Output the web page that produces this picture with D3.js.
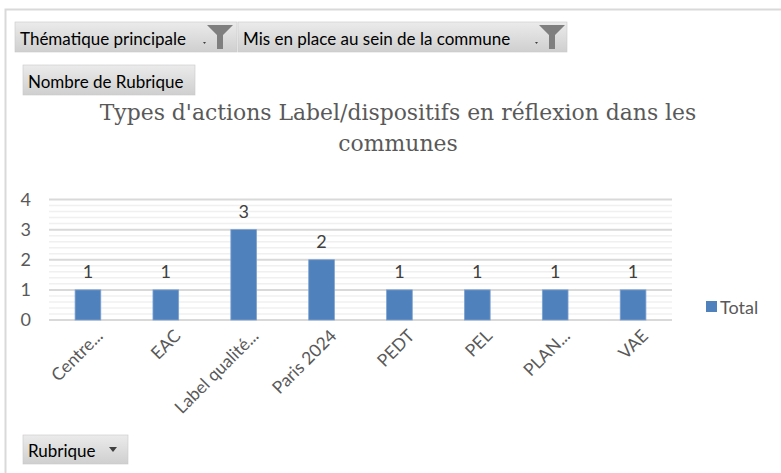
<!DOCTYPE html>
<html>
<head>
<meta charset="utf-8">
<script src="https://d3js.org/d3.v7.min.js"></script>
<style>
  body { margin: 0; background: #fff; }
  text { font-family: Lato, "Open Sans", sans-serif; }
</style>
</head>
<body>
<div id="chart"></div>
<script>
// data
var categories = ['Centre...', 'EAC', 'Label qualité...', 'Paris 2024', 'PEDT', 'PEL', 'PLAN...', 'VAE'];
var values = [1, 1, 3, 2, 1, 1, 1, 1];
var yTicks = [0, 1, 2, 3, 4];
var seriesName = 'Total';
var titleLines = ["Types d'actions Label/dispositifs en réflexion dans les", 'communes'];

var W = 781, H = 473;
var svg = d3.select('#chart').append('svg')
  .attr('width', W).attr('height', H);

var defs = svg.append('defs');
var grad = defs.append('linearGradient').attr('id', 'btn').attr('x1', 0).attr('y1', 0).attr('x2', 0).attr('y2', 1);
grad.append('stop').attr('offset', '0%').attr('stop-color', '#ebebeb');
grad.append('stop').attr('offset', '100%').attr('stop-color', '#cfcfcf');

// outer frame
svg.append('path')
  .attr('d', 'M5.5,' + H + ' L5.5,9.5 L' + W + ',9.5')
  .attr('fill', 'none').attr('stroke', '#d9d9d9').attr('stroke-width', 2);

// plot area
var x = d3.scaleBand().domain(categories).range([49, 672]).paddingInner(0.67).paddingOuter(0.335);
var y = d3.scaleLinear().domain([0, 4]).range([320, 199.5]);

// minor gridlines
var minor = d3.range(0, 4.0001, 0.2).filter(function(v) { return Math.abs(v - Math.round(v)) > 0.01; });
svg.append('g').selectAll('line').data(minor).enter().append('line')
  .attr('x1', 49).attr('x2', 672)
  .attr('y1', function(d) { return y(d); }).attr('y2', function(d) { return y(d); })
  .attr('stroke', '#f0f0f0').attr('stroke-width', 1.5);

// major gridlines
svg.append('g').selectAll('line').data(yTicks).enter().append('line')
  .attr('x1', 49).attr('x2', 672)
  .attr('y1', function(d) { return y(d); }).attr('y2', function(d) { return y(d); })
  .attr('stroke', '#d9d9d9').attr('stroke-width', 2);

// y axis labels
var yAxis = d3.axisLeft(y).tickValues(yTicks).tickFormat(d3.format('d')).tickSize(0).tickPadding(0);
var gy = svg.append('g').attr('transform', 'translate(31,0)').call(yAxis);
gy.select('.domain').remove();
gy.selectAll('text').attr('font-size', 18).attr('fill', '#595959').attr('font-family', 'Lato, sans-serif');

// bars
svg.append('g').selectAll('rect').data(values).enter().append('rect')
  .attr('x', function(d, i) { return x(categories[i]); })
  .attr('width', x.bandwidth())
  .attr('y', function(d) { return y(d); })
  .attr('height', function(d) { return y(0) - y(d); })
  .attr('fill', '#4f81bd').attr('stroke', '#7fa3d0').attr('stroke-width', 0.8);

// data labels
svg.append('g').selectAll('text').data(values).enter().append('text')
  .attr('x', function(d, i) { return x(categories[i]) + x.bandwidth() / 2; })
  .attr('y', function(d) { return y(d) - 19; })
  .attr('text-anchor', 'middle').attr('dominant-baseline', 'central')
  .attr('font-size', 18).attr('fill', '#404040')
  .text(function(d) { return d; });

// x axis labels
var xAxis = d3.axisBottom(x).tickSize(0).tickPadding(0);
var gx = svg.append('g').attr('transform', 'translate(0,320)').call(xAxis);
gx.select('.domain').remove();
gx.selectAll('text')
  .attr('font-size', 17.5).attr('fill', '#595959').attr('font-family', 'Lato, sans-serif')
  .attr('text-anchor', 'end').attr('dy', null).attr('y', null)
  .attr('transform', 'translate(16,17) rotate(-45)');

// title
var title = svg.append('g').selectAll('text').data(titleLines).enter().append('text')
  .attr('x', 398).attr('y', function(d, i) { return 120 + i * 31; })
  .attr('text-anchor', 'middle')
  .style('font-family', '"DejaVu Serif", serif')
  .attr('font-size', 22).attr('fill', '#595959')
  .text(function(d) { return d; });
// fit size so first line is as wide as in the reference
var first = title.nodes()[0];
title.attr('font-size', 22 * 597 / first.getComputedTextLength());

// legend
svg.append('rect').attr('x', 706).attr('y', 301).attr('width', 11).attr('height', 11).attr('fill', '#4f81bd');
svg.append('text').attr('x', 720).attr('y', 306.5).attr('dominant-baseline', 'central')
  .attr('font-size', 18).attr('fill', '#595959').text(seriesName);

// field buttons
function button(bx, by, bw, bh, label) {
  var g = svg.append('g');
  g.append('rect').attr('x', bx).attr('y', by).attr('width', bw).attr('height', bh)
    .attr('fill', 'url(#btn)').attr('stroke', '#c8c8c8').attr('stroke-width', 0.6);
  g.append('text').attr('x', bx + 5).attr('y', by + bh / 2 + 1).attr('dominant-baseline', 'central')
    .attr('font-size', 17).attr('fill', '#000').text(label);
  return g;
}
function funnel(g, fx, fy) {
  g.append('path').attr('d', 'M' + (fx - 4) + ',' + (fy + 17) + ' l3,0 l-1.5,2 z').attr('fill', '#404040');
  g.append('path')
    .attr('d', 'M' + fx + ',' + (fy) + ' L' + (fx + 26) + ',' + fy + ' L' + (fx + 16) + ',' + (fy + 10) +
      ' L' + (fx + 16) + ',' + (fy + 24) + ' L' + (fx + 10) + ',' + (fy + 24) + ' L' + (fx + 10) + ',' + (fy + 10) + ' Z')
    .attr('fill', '#7f7f7f');
}
var b1 = button(15, 22, 222, 30, 'Thématique principale');
funnel(b1, 207, 25);
var b2 = button(238, 22, 329, 30, 'Mis en place au sein de la commune');
funnel(b2, 539, 25);
button(23, 65, 172, 30, 'Nombre de Rubrique');
var b4 = button(23, 435, 105, 29, 'Rubrique');
b4.append('path').attr('d', 'M109,447 L117,447 L113,452 Z').attr('fill', '#404040');
</script>
</body>
</html>
